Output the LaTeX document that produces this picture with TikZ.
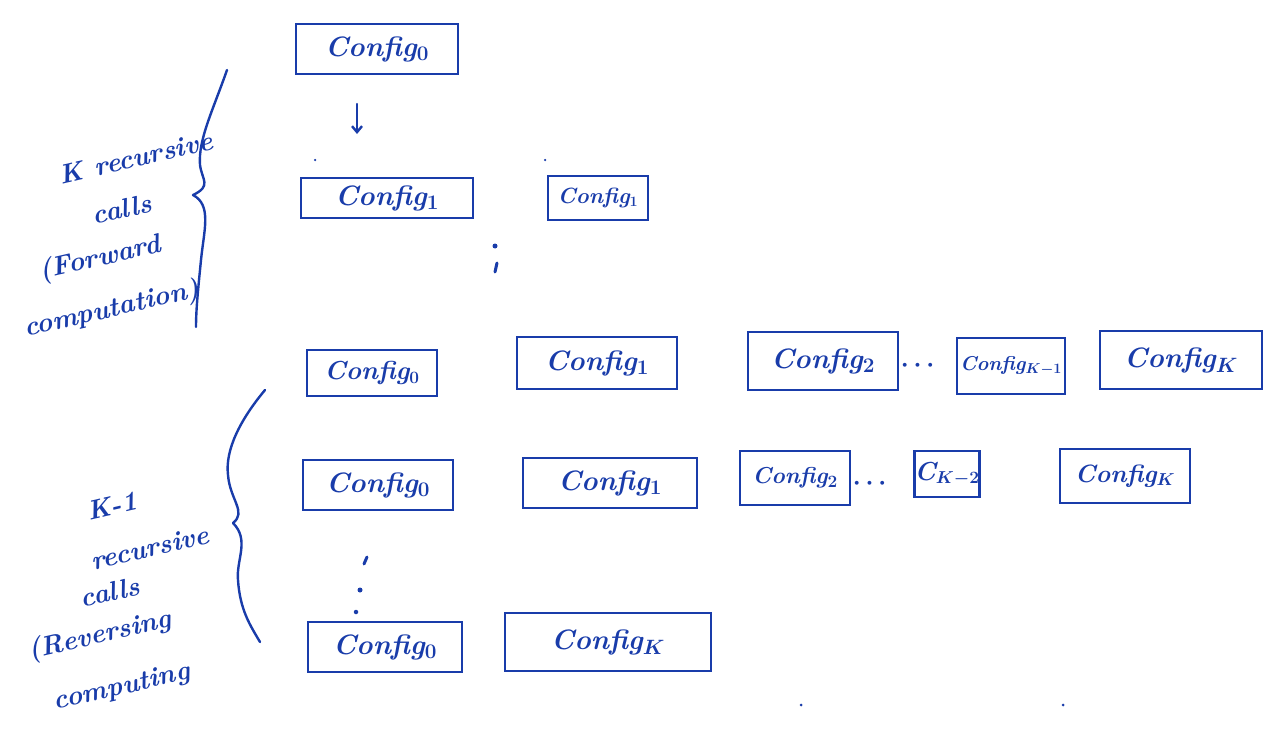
\documentclass[tikz,border=0pt]{standalone}
\usepackage{amsmath}
\usepackage{fontspec}
\usetikzlibrary{arrows.meta}
\definecolor{ink}{RGB}{25,60,170}
\begin{document}
\begin{tikzpicture}[x=1pt,y=-1pt,
  cfg/.style={draw=ink, text=ink, inner sep=0pt, line width=2.4pt,
    font=\fontsize{28}{32}\selectfont\bfseries\itshape\boldmath},
  lbl/.style={text=ink, inner sep=1pt, font=\fontsize{27}{30}\selectfont\bfseries\itshape,
    rotate=13},
  inkdot/.style={circle, fill=ink, inner sep=0pt, minimum size=#1},
  inkdot/.default=4pt,
  pen/.style={draw=ink, line width=2.4pt, line cap=round, line join=round}]
\useasboundingbox (0,0) rectangle (1276,741);

% top
\node[cfg, minimum width=162pt, minimum height=50pt] (c0) at (377,49) {Config$_0$};
\coordinate (a1) at (357,104);
\coordinate (a2) at (357,134);
\draw[pen, -{Straight Barb[length=6pt,width=10pt]}] (a1) -- (a2);

% row 2
\node[cfg, minimum width=172pt, minimum height=40pt] (c1a) at (387,198) {Config$_1$};
\node[cfg, minimum width=100pt, minimum height=44pt, font=\fontsize{22}{26}\selectfont\bfseries\itshape\boldmath] (c1b) at (598,198) {Config$_1$};
\node[inkdot=2.5pt] (d1) at (315,160) {};
\node[inkdot=2.5pt] (d2) at (545,160) {};
\node[inkdot=5pt] (v1) at (495,246) {};
\draw[pen, line width=3pt] (497,263) -- (495,272);

% row 3
\node[cfg, minimum width=130pt, minimum height=46pt, font=\fontsize{26}{30}\selectfont\bfseries\itshape\boldmath] (r3a) at (372,373) {Config$_0$};
\node[cfg, minimum width=160pt, minimum height=52pt] (r3b) at (597,363) {Config$_1$};
\node[cfg, minimum width=150pt, minimum height=58pt] (r3c) at (823,361) {Config$_2$};
\node[text=ink, font=\fontsize{28}{32}\selectfont\boldmath] (e3) at (920,366) {$\cdots$};
\node[cfg, minimum width=108pt, minimum height=56pt, font=\fontsize{20}{24}\selectfont\bfseries\itshape\boldmath] (r3d) at (1011,366) {Config$_{K-1}$};
\node[cfg, minimum width=162pt, minimum height=58pt] (r3e) at (1181,360) {Config$_K$};

% row 4
\node[cfg, minimum width=150pt, minimum height=50pt] (r4a) at (378,485) {Config$_0$};
\node[cfg, minimum width=174pt, minimum height=50pt] (r4b) at (610,483) {Config$_1$};
\node[cfg, minimum width=110pt, minimum height=54pt, font=\fontsize{23}{28}\selectfont\bfseries\itshape\boldmath] (r4c) at (795,478) {Config$_2$};
\node[text=ink, font=\fontsize{28}{32}\selectfont\boldmath] (e4) at (872,484) {$\cdots$};
\node[cfg, minimum width=64pt, minimum height=46pt, font=\fontsize{26}{30}\selectfont\bfseries\itshape\boldmath] (r4d) at (947,474) {C$_{K-2}$};
\node[cfg, minimum width=130pt, minimum height=54pt, font=\fontsize{25}{30}\selectfont\bfseries\itshape\boldmath] (r4e) at (1125,476) {Config$_K$};

% vertical dots
\draw[pen, line width=3pt] (367,557) -- (364,564);
\node[inkdot=5pt] (v2) at (360,590) {};
\node[inkdot=4.5pt] (v3) at (356,612) {};

% row 5
\node[cfg, minimum width=154pt, minimum height=50pt] (r5a) at (385,647) {Config$_0$};
\node[cfg, minimum width=206pt, minimum height=58pt] (r5b) at (608,642) {Config$_K$};

\node[inkdot=3pt] (d3) at (801,705) {};
\node[inkdot=3pt] (d4) at (1063,705) {};

% left labels: forward
\node[lbl] (L1a) at (136,158) {K recursive};
\node[lbl] (L1b) at (122,209) {calls};
\node[lbl] (L1c) at (100,259) {(Forward};
\node[lbl] (L1d) at (112,310) {computation)};
% left labels: reversing
\node[lbl] (L2a) at (112,506) {K-1};
\node[lbl] (L2b) at (150,548) {recursive};
\node[lbl] (L2c) at (110,592) {calls};
\node[lbl] (L2d) at (100,636) {(Reversing};
\node[lbl] (L2e) at (122,688) {computing};

% braces
\draw[pen] (227,70) .. controls (213,110) and (198,140) .. (200,165)
  .. controls (202,180) and (212,186) .. (193,195)
  .. controls (212,205) and (204,230) .. (201,260)
  .. controls (198,290) and (196,310) .. (196,327);
\draw[pen] (265,390) .. controls (240,420) and (225,450) .. (228,475)
  .. controls (230,500) and (247,512) .. (233,523)
  .. controls (250,540) and (236,560) .. (238,580)
  .. controls (240,610) and (250,625) .. (260,642);
\end{tikzpicture}
\end{document}
